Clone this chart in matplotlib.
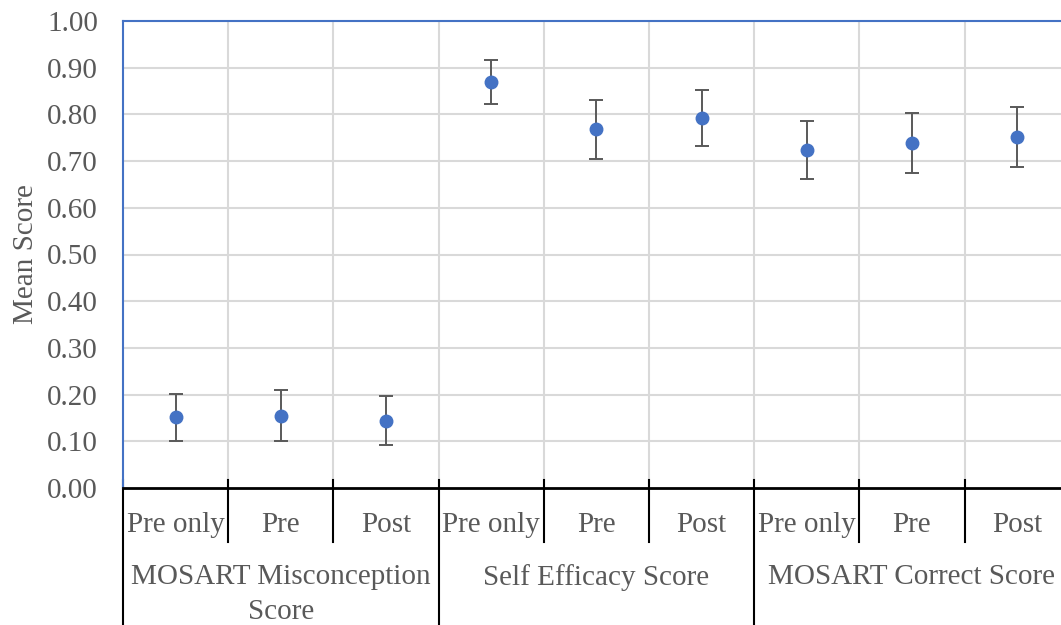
import matplotlib.pyplot as plt
import numpy as np

plt.rcParams['font.family'] = ['Liberation Serif', 'DejaVu Serif']

groups = ["MOSART Misconception\nScore", "Self Efficacy Score", "MOSART Correct Score"]
phases = ["Pre only", "Pre", "Post"]
means = [0.151, 0.155, 0.144, 0.869, 0.768, 0.792, 0.724, 0.739, 0.752]
errs = [0.050, 0.054, 0.052, 0.047, 0.063, 0.060, 0.062, 0.065, 0.064]

txt = '#595959'
blue = '#4472C4'
fs = 21

fig = plt.figure(figsize=(10.61, 6.25), dpi=100)
# axes runs a little past the right edge of the figure
ax = fig.add_axes([123/1061, 137/625, 946.8/1061, 467/625])

n = len(means)
x = np.arange(n)
ax.errorbar(x, means, yerr=errs, fmt='o', color=blue, markersize=9,
            ecolor='#595959', elinewidth=1.4, capsize=5, capthick=1.4, zorder=3)

ax.set_xlim(-0.5, n - 0.5)
ax.set_ylim(0, 1.0)
ax.set_yticks(np.arange(0, 1.01, 0.1))
ax.set_yticklabels(["%.2f" % v for v in np.arange(0, 1.01, 0.1)], fontsize=fs, color=txt)
ax.tick_params(axis='y', length=0, pad=18)
ax.set_xticks([])

for v in np.arange(0.1, 1.01, 0.1):
    ax.axhline(v, color='#d9d9d9', lw=1.5, zorder=1)
for b in np.arange(0.5, n - 0.5, 1):
    ax.axvline(b, color='#d9d9d9', lw=1.5, zorder=1)

for s in ['top', 'left', 'right']:
    ax.spines[s].set_color(blue)
    ax.spines[s].set_linewidth(1.5)
ax.spines['bottom'].set_color('black')
ax.spines['bottom'].set_linewidth(2)

ax.set_ylabel("Mean Score", fontsize=fs, color=txt, labelpad=6)

# two-level category axis below the plot
tr = ax.get_xaxis_transform()
for i in range(n):
    ax.text(x[i], -0.079, phases[i % len(phases)], transform=tr, ha='center', va='center',
            fontsize=fs, color=txt, clip_on=False)
for i in range(n + 1):
    xb = i - 0.5
    y1 = -0.32 if i % len(phases) == 0 else -0.115
    ax.plot([xb, xb], [0.017, y1], transform=tr, color='black', lw=1.5, clip_on=False)
for g, name in enumerate(groups):
    xc = g * len(phases) + 1
    ax.text(xc, -0.163, name, transform=tr, ha='center', va='top', fontsize=fs,
            color=txt, linespacing=1.45, clip_on=False)

fig.savefig("out.png", dpi=100)
